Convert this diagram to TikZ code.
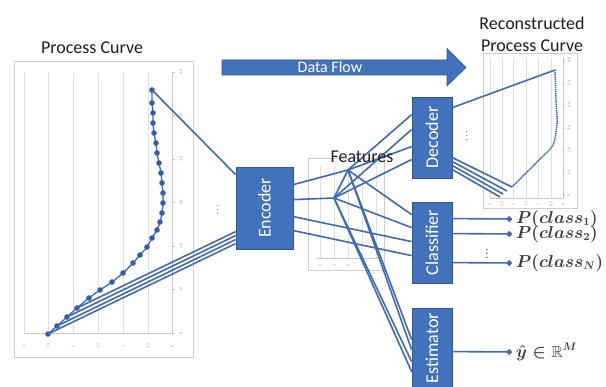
\documentclass[tikz,border=0pt]{standalone}
\usepackage{fontspec}
\setmainfont{Carlito}
\usepackage{amsmath,amssymb}
\usepackage{graphicx}
\usetikzlibrary{arrows.meta,calc}
\definecolor{boxblue}{RGB}{66,114,188}
\definecolor{boxedge}{RGB}{47,85,151}
\definecolor{linkblue}{RGB}{64,106,184}
\definecolor{markblue}{RGB}{52,92,168}
\definecolor{gridgray}{RGB}{224,224,224}
\definecolor{axisgray}{RGB}{200,200,200}
\definecolor{framegray}{RGB}{208,208,208}
\definecolor{txtdark}{RGB}{30,30,30}
\definecolor{mathdark}{RGB}{60,60,60}
\definecolor{ticktxt}{RGB}{150,150,150}
\begin{document}
\begin{tikzpicture}[x=1pt,y=-1pt,
 blk/.style={draw=boxedge, fill=boxblue, line width=0.8pt, inner sep=0pt, text=white, font=\fontsize{18}{20}\selectfont},
 chartbox/.style={draw=framegray, fill=white, line width=0.7pt, inner sep=0pt},
 gridln/.style={draw=gridgray, line width=0.6pt},
 axisln/.style={draw=axisgray, line width=0.6pt},
 link/.style={draw=linkblue, line width=1.6pt},
 outlink/.style={draw=linkblue, line width=1.6pt, -{Circle[length=5.5pt]}, shorten >=3pt},
 ttl/.style={text=txtdark, font=\fontsize{18}{22}\selectfont, inner sep=0pt},
 ticklbl/.style={text=ticktxt, font=\fontsize{4}{4}\selectfont, inner sep=0pt, rotate=90},
 mathlbl/.style={text=mathdark, font=\fontsize{16}{18}\selectfont\boldmath, inner sep=1pt, anchor=west},
 dotsv/.style={text=mathdark, font=\fontsize{8}{8}\selectfont, inner sep=0pt},
]
\useasboundingbox (0,0) rectangle (606,387);
\clip (0,0) rectangle (606,387);

% ---------- Process curve chart ----------
\node[chartbox, minimum width=179pt, minimum height=296pt] (pc) at (103.5,209) {};
\foreach \x in {24,48,73,98,123,148} \draw[gridln] (\x,73) -- (\x,333);
\draw[axisln] (172,72) -- (172,333);
\draw[axisln] (24,333) -- (172,333);
\foreach \y/\l in {72/60,115.5/50,159/40,202.5/30,246/20,289.5/10,333/0}{
  \draw[axisln] (172,\y) -- (175,\y);
  \node[ticklbl] at (181,\y) {\l};}
\foreach \x/\l in {24/3,48/2.5,73/2,98/1.5,123/1,148/0.5,172/0}
  \node[ticklbl] at (\x,346) {\l};
\node[ttl] (t1) at (92,48) {Process Curve};

\draw[draw=linkblue, line width=1.3pt] plot[smooth, mark=*, mark size=2.1pt, mark options={fill=markblue, draw=markblue}] coordinates {
 (48,334) (57,326) (67,317) (77,308) (89,298) (100,290) (112,282) (123,273) (133,263)
 (140,255) (147,247) (152,238) (157,230) (160,222) (162,213) (163,203) (163,193)
 (162,183) (161,173) (159,163) (157,153) (156,143) (154,133) (153,123) (153,113)
 (152,103) (152,90)};
\coordinate (ptop) at (152,90);
\coordinate (p1) at (48,334);
\coordinate (p2) at (57,326);
\coordinate (p3) at (67,317);
\coordinate (p4) at (77,308);

% ---------- Data flow arrow ----------
\path[fill=boxblue, draw=boxedge, line width=0.6pt] (222,60) -- (447,60) -- (447,48.5) -- (466,67.5) -- (447,86) -- (447,75) -- (222,75) -- cycle;
\node[text=white, font=\fontsize{16}{18}\selectfont, inner sep=0pt] (df) at (330,67.5) {Data Flow};

% ---------- Features chart ----------
\node[chartbox, minimum width=76pt, minimum height=112pt] (fc) at (346,214) {};
\foreach \x in {320,334,348,362,376} \draw[gridln] (\x,166) -- (\x,258);
\draw[axisln] (316,258) -- (378,258);
\foreach \x/\l in {320/2,334/1,348/0} \node[ticklbl] at (\x,265) {\l};

% ---------- Reconstructed chart ----------
\node[chartbox, minimum width=94pt, minimum height=155pt] (rc) at (530,130.5) {};
\foreach \x in {490,502,513,526,538,551} \draw[gridln] (\x,58) -- (\x,198);
\draw[axisln] (563,58) -- (563,198);
\draw[axisln] (490,198) -- (563,198);
\foreach \y/\l in {60/60,83/50,105/40,128/30,150/20,173/10,195/0}{
  \draw[axisln] (563,\y) -- (565,\y);
  \node[ticklbl] at (569,\y) {\l};}
\foreach \x/\l in {490/3,502/2.5,513/2,526/1.5,538/1,551/0.5,563/0}
  \node[ticklbl] at (\x,204) {\l};
\node[ttl, align=center] (t2) at (532,34) {Reconstructed\\Process Curve};
\draw[draw=linkblue, line width=1.5pt, dash pattern=on 1.4pt off 0.7pt] plot[smooth] coordinates {(555,70) (556,100) (557,123) (553,145) (540,159) (512,187)};
\coordinate (rtop) at (555,70);
\coordinate (r1) at (512,187);
\coordinate (r2) at (507,191);
\coordinate (r3) at (503,194);
\coordinate (r4) at (500,197);

% ---------- blocks ----------
\node[blk, minimum width=57pt, minimum height=82pt] (enc) at (264.5,208) {\rotatebox{90}{Encoder}};
\node[blk, minimum width=40pt, minimum height=81pt] (dec) at (432,137.5) {\rotatebox{90}{Decoder}};
\node[blk, minimum width=40pt, minimum height=81pt] (cls) at (432,242.5) {\rotatebox{90}{Classifier}};
\node[blk, minimum width=40pt, minimum height=80pt] (est) at (432,348) {\rotatebox{90}{Estimator}};

% ---------- inputs to encoder ----------
\draw[link] (ptop) -- ($(enc.north west)+(0,8)$);
\draw[link] (p1) -- ($(enc.north west)+(0,77)$);
\draw[link] (p2) -- ($(enc.north west)+(0,73)$);
\draw[link] (p3) -- ($(enc.north west)+(0,69)$);
\draw[link] (p4) -- ($(enc.north west)+(0,65)$);
\node[dotsv] (vd1) at (218,207) {$\vdots$};

% ---------- features mesh ----------
\coordinate (f1) at (348,170);
\coordinate (f2) at (334,198);
\draw[link] ($(enc.north east)+(0,18)$) -- (f1);
\draw[link] ($(enc.north east)+(0,33)$) -- (f2);
\draw[link] ($(enc.north east)+(0,50)$) -- ($(cls.north west)+(0,40)$);
\draw[link] ($(enc.north east)+(0,64)$) -- ($(cls.north west)+(0,54)$);
\draw[link] (f1) -- (f2);
\draw[link] (f1) -- ($(dec.north west)+(0,18)$);
\draw[link] (f1) -- ($(dec.north west)+(0,50)$);
\draw[link] (f2) -- ($(dec.north west)+(0,33)$);
\draw[link] (f2) -- ($(dec.north west)+(0,63)$);
\draw[link] (f1) -- ($(cls.north west)+(0,13)$);
\draw[link] (f2) -- ($(cls.north west)+(0,26)$);
\draw[link] (f1) -- ($(est.north west)+(0,32)$);
\draw[link] (f1) -- ($(est.north west)+(0,42)$);
\draw[link] (f2) -- ($(est.north west)+(0,54)$);
\draw[link] (f2) -- ($(est.north west)+(0,64)$);
\node[ttl] (ft) at (362,157) {Features};

% ---------- decoder outputs ----------
\draw[link] ($(dec.north east)+(0,11)$) -- (rtop);
\draw[link] ($(dec.north east)+(0,61)$) -- (r1);
\draw[link] ($(dec.north east)+(0,65)$) -- (r2);
\draw[link] ($(dec.north east)+(0,69)$) -- (r3);
\draw[link] ($(dec.north east)+(0,73)$) -- (r4);
\node[dotsv] (vd2) at (467,133) {$\vdots$};

% ---------- classifier / estimator outputs ----------
\node[mathlbl] (c1) at (515,219) {$P(class_1)$};
\node[mathlbl] (c2) at (515,234) {$P(class_2)$};
\node[mathlbl] (cn) at (515,263) {$P(class_N)$};
\node[mathlbl] (yo) at (515,352) {$\hat{y}\in\mathbb{R}^M$};
\draw[outlink] ($(cls.north east)+(0,17)$) -- (c1.west);
\draw[outlink] ($(cls.north east)+(0,32)$) -- (c2.west);
\draw[outlink] ($(cls.north east)+(0,61)$) -- (cn.west);
\draw[outlink] ($(est.north east)+(0,44)$) -- (yo.west);
\node[dotsv, font=\fontsize{11}{11}\selectfont] (vd3) at (487,251) {$\vdots$};
\end{tikzpicture}
\end{document}
